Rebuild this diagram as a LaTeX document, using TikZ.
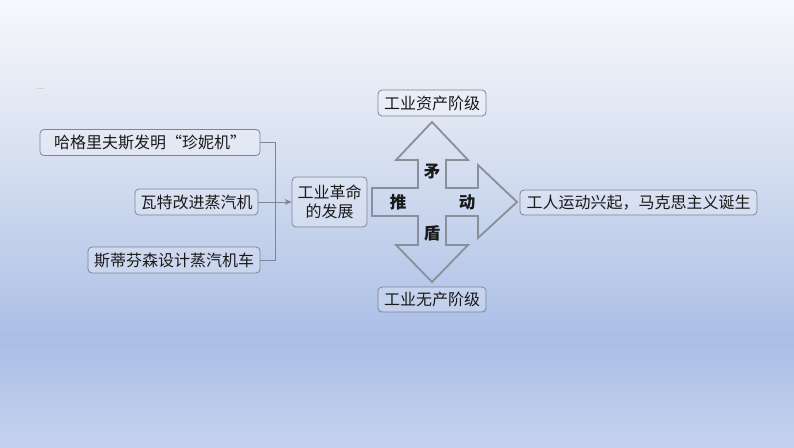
\documentclass[tikz,border=0pt]{standalone}
\usepackage{fontspec}
\setmainfont{Noto Sans CJK SC}
\usetikzlibrary{arrows.meta}
\definecolor{bgA}{HTML}{F7F8FC}
\definecolor{bgB}{HTML}{D9E1F1}
\definecolor{bgC}{HTML}{AABEE6}
\definecolor{bgD}{HTML}{C4D2EE}
\definecolor{boxline}{HTML}{7D8597}
\definecolor{txt}{HTML}{1A1A1A}
\definecolor{crossline}{HTML}{8A8F99}
\begin{document}
\begin{tikzpicture}[x=1pt,y=-1pt,
  box/.style={draw=boxline,line width=0.8pt,rounded corners=4pt,fill=white,fill opacity=0.22,text opacity=1,
    text=txt,font=\fontsize{16}{19.5}\selectfont,inner sep=0pt,align=center},
  link/.style={draw=boxline,line width=0.8pt},
  crossstyle/.style={draw=crossline,line width=1.8pt,line join=miter},
  clabel/.style={text=txt,font=\fontsize{16.5}{19}\selectfont\bfseries,inner sep=0pt}]
\useasboundingbox (0,0) rectangle (794,447);
\shade[top color=bgA,bottom color=bgB] (0,0) rectangle (794,150);
\shade[top color=bgB,bottom color=bgC] (0,149.5) rectangle (794,340);
\shade[top color=bgC,bottom color=bgD] (0,339.5) rectangle (794,447);
\draw[gray!35,line width=0.8pt] (37,88) -- (44,88);
% boxes
\node[box,minimum width=220pt,minimum height=26pt] (b1) at (150,142.5) {哈格里夫斯发明“珍妮机”};
\node[box,minimum width=123pt,minimum height=26pt] (b2) at (196.5,202) {瓦特改进蒸汽机};
\node[box,minimum width=172pt,minimum height=26pt] (b3) at (174,260) {斯蒂芬森设计蒸汽机车};
\node[box,minimum width=75pt,minimum height=50pt] (rev) at (329.5,202) {工业革命\\的发展};
\node[box,minimum width=108pt,minimum height=26pt] (top) at (432,103) {工业资产阶级};
\node[box,minimum width=108pt,minimum height=25pt] (bot) at (432,299.5) {工业无产阶级};
\node[box,minimum width=237pt,minimum height=25pt] (res) at (638.5,202.5) {工人运动兴起，马克思主义诞生};
% connectors
\coordinate (j) at (275,202);
\draw[link] (b1.east) -| (j);
\draw[link] (b3.east) -| (j);
\draw[link] (b2.east) -- (j);
\draw[link,-{Stealth[length=7pt,width=6pt]}] (j) -- (rev.west);
% cross arrow
\draw[crossstyle] (432,122) -- (468,160) -- (446,160) -- (446,188) -- (478,188) -- (478,165)
  -- (517,202) -- (478,238) -- (478,216) -- (446,216) -- (446,245) -- (468,245) -- (432,282)
  -- (396,245) -- (418,245) -- (418,216) -- (372,216) -- (372,188) -- (418,188) -- (418,160)
  -- (396,160) -- cycle;
\node[clabel] (m) at (432,172) {矛};
\node[clabel] (t) at (398,202) {推};
\node[clabel] (d) at (467,202) {动};
\node[clabel] (s) at (432,233) {盾};
\end{tikzpicture}
\end{document}
